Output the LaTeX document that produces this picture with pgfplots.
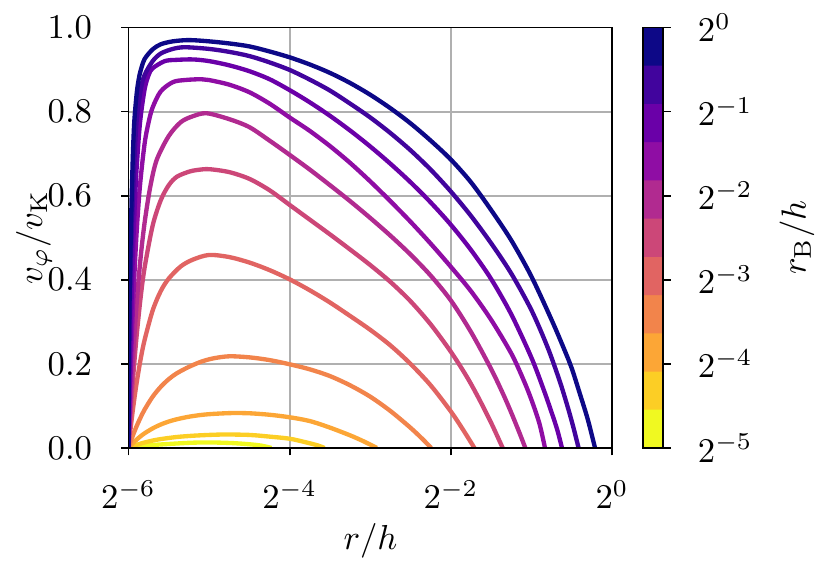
\documentclass[border=0pt]{standalone}
\usepackage{pgfplots}
\pgfplotsset{compat=1.18}
\definecolor{c0}{HTML}{0D0887}
\definecolor{c1}{HTML}{41049D}
\definecolor{c2}{HTML}{6A00A8}
\definecolor{c3}{HTML}{8F0DA4}
\definecolor{c4}{HTML}{B12A90}
\definecolor{c5}{HTML}{CC4778}
\definecolor{c6}{HTML}{E16462}
\definecolor{c7}{HTML}{F2844B}
\definecolor{c8}{HTML}{FCA636}
\definecolor{c9}{HTML}{FCCE25}
\definecolor{c10}{HTML}{F0F921}
\definecolor{gridgray}{HTML}{B0B0B0}
\begin{document}
\begin{tikzpicture}
\useasboundingbox (-37.07pt,-33.17pt) rectangle (202.36pt,129.23pt);
\begin{axis}[
  name=main, at={(0pt,0pt)}, anchor=south west,
  scale only axis, width=139.47pt, height=121.30pt,
  xmin=-6, xmax=0, ymin=0, ymax=1,
  xtick={-6,-4,-2,0}, xticklabels={$2^{-6}$,$2^{-4}$,$2^{-2}$,$2^{0}$},
  ytick={0,0.2,0.4,0.6,0.8,1}, yticklabels={$0.0$,$0.2$,$0.4$,$0.6$,$0.8$,$1.0$},
  tick align=outside, tick pos=left,
  major tick length=2.12pt,
  every tick/.style={black, line width=0.5pt},
  axis line style={line width=0.5pt},
  grid=major, major grid style={color=gridgray, line width=0.55pt},
  xticklabel style={anchor=base, inner sep=0pt, yshift=-15.38pt},
  yticklabel style={anchor=east, inner sep=0pt, xshift=-8.22pt},
  every axis plot/.append style={line width=1.25pt, line join=round, no markers, smooth, tension=0.5},
]
\addplot[c10] coordinates {(-6,0) (-5.9,0.0029) (-5.7,0.007) (-5.5,0.0095) (-5.25,0.0122) (-5.09,0.013) (-4.9,0.0128) (-4.7,0.0115) (-4.5,0.0088) (-4.35,0.0055) (-4.225,0)};
\addplot[c9] coordinates {(-6,0) (-5.97,0.0024) (-5.9,0.0073) (-5.8,0.0131) (-5.7,0.0176) (-5.6,0.0211) (-5.4,0.0261) (-5.2,0.0291) (-5.0,0.031) (-4.8,0.032) (-4.5,0.031) (-4.25,0.027) (-4.0,0.022) (-3.8,0.0135) (-3.65,0.006) (-3.567,0)};
\addplot[c8] coordinates {(-6,0) (-5.99,0.0022) (-5.97,0.0064) (-5.94,0.0124) (-5.9,0.0197) (-5.85,0.0278) (-5.8,0.0349) (-5.7,0.0466) (-5.6,0.0558) (-5.5,0.0629) (-5.4,0.0683) (-5.25,0.0743) (-5.1,0.0785) (-4.95,0.081) (-4.72,0.083) (-4.5,0.0825) (-4.25,0.079) (-4.0,0.073) (-3.75,0.064) (-3.5,0.0484) (-3.25,0.030) (-3.1,0.0174) (-3.0,0.0081) (-2.918,0)};
\addplot[c7] coordinates {(-6,0) (-5.99,0.0058) (-5.97,0.0169) (-5.94,0.0325) (-5.9,0.0515) (-5.85,0.0725) (-5.8,0.0913) (-5.7,0.122) (-5.6,0.1454) (-5.5,0.1637) (-5.4,0.1777) (-5.25,0.1929) (-5.1,0.205) (-4.95,0.213) (-4.75,0.218) (-4.5,0.2155) (-4.25,0.209) (-4.0,0.199) (-3.75,0.187) (-3.5,0.171) (-3.25,0.149) (-3.0,0.122) (-2.75,0.088) (-2.5,0.048) (-2.35,0.021) (-2.244,0)};
\addplot[c6] coordinates {(-6,0) (-5.99,0.0182) (-5.97,0.0526) (-5.94,0.0993) (-5.9,0.1535) (-5.85,0.2106) (-5.8,0.257) (-5.7,0.327) (-5.6,0.373) (-5.5,0.403) (-5.35,0.432) (-5.2,0.448) (-5.0,0.459) (-4.75,0.454) (-4.5,0.441) (-4.25,0.423) (-4.0,0.401) (-3.75,0.375) (-3.5,0.346) (-3.25,0.314) (-3.0,0.281) (-2.75,0.244) (-2.5,0.200) (-2.25,0.149) (-2.0,0.087) (-1.85,0.044) (-1.707,0)};
\addplot[c5] coordinates {(-6,0) (-5.99,0.0327) (-5.97,0.0935) (-5.94,0.174) (-5.9,0.265) (-5.85,0.357) (-5.8,0.429) (-5.7,0.529) (-5.6,0.589) (-5.5,0.625) (-5.4,0.645) (-5.25,0.657) (-5.15,0.661) (-5.0,0.663) (-4.75,0.656) (-4.5,0.640) (-4.25,0.613) (-4.0,0.578) (-3.75,0.543) (-3.5,0.508) (-3.25,0.472) (-3.0,0.435) (-2.75,0.395) (-2.5,0.349) (-2.25,0.294) (-2.0,0.229) (-1.8,0.169) (-1.65,0.117) (-1.5,0.060) (-1.42,0.027) (-1.356,0)};
\addplot[c4] coordinates {(-6,0) (-5.99,0.043) (-5.97,0.123) (-5.94,0.226) (-5.9,0.341) (-5.85,0.452) (-5.8,0.536) (-5.73,0.621) (-5.65,0.685) (-5.5,0.742) (-5.35,0.775) (-5.2,0.789) (-5.03,0.796) (-4.75,0.782) (-4.5,0.763) (-4.25,0.731) (-4.0,0.697) (-3.75,0.662) (-3.5,0.625) (-3.25,0.587) (-3.0,0.547) (-2.75,0.505) (-2.5,0.460) (-2.25,0.410) (-2.0,0.351) (-1.75,0.276) (-1.5,0.188) (-1.35,0.128) (-1.25,0.084) (-1.15,0.037) (-1.075,0)};
\addplot[c3] coordinates {(-6,0) (-5.99,0.073) (-5.97,0.201) (-5.94,0.357) (-5.9,0.510) (-5.857,0.625) (-5.8,0.724) (-5.75,0.775) (-5.7,0.81) (-5.6,0.848) (-5.45,0.87) (-5.3,0.875) (-5.1,0.877) (-5.0,0.875) (-4.75,0.864) (-4.5,0.846) (-4.25,0.819) (-4.0,0.786) (-3.75,0.754) (-3.5,0.718) (-3.25,0.678) (-3.0,0.634) (-2.75,0.587) (-2.5,0.538) (-2.25,0.486) (-2.0,0.431) (-1.75,0.373) (-1.5,0.305) (-1.25,0.225) (-1.1,0.163) (-1.0,0.115) (-0.9,0.058) (-0.831,0)};
\addplot[c2] coordinates {(-6,0) (-5.995,0.056) (-5.99,0.109) (-5.98,0.206) (-5.96,0.366) (-5.94,0.490) (-5.92,0.587) (-5.9,0.663) (-5.857,0.774) (-5.8,0.853) (-5.75,0.887) (-5.7,0.903) (-5.55,0.92) (-5.4,0.923) (-5.2,0.924) (-5.0,0.920) (-4.75,0.910) (-4.5,0.896) (-4.25,0.877) (-4.0,0.851) (-3.75,0.822) (-3.5,0.790) (-3.25,0.755) (-3.0,0.717) (-2.75,0.676) (-2.5,0.632) (-2.25,0.584) (-2.0,0.531) (-1.75,0.471) (-1.5,0.402) (-1.25,0.318) (-1.0,0.215) (-0.85,0.14) (-0.75,0.085) (-0.68,0.044) (-0.62,0)};
\addplot[c1] coordinates {(-6,0) (-5.99,0.25) (-5.975,0.40) (-5.955,0.54) (-5.93,0.67) (-5.9,0.775) (-5.85,0.85) (-5.8,0.887) (-5.7,0.92) (-5.6,0.938) (-5.45,0.949) (-5.3,0.953) (-5.0,0.949) (-4.75,0.942) (-4.5,0.932) (-4.25,0.917) (-4.0,0.899) (-3.75,0.876) (-3.5,0.850) (-3.25,0.819) (-3.0,0.786) (-2.75,0.749) (-2.5,0.708) (-2.25,0.662) (-2.0,0.610) (-1.75,0.552) (-1.5,0.487) (-1.25,0.415) (-1.0,0.328) (-0.8,0.24) (-0.65,0.16) (-0.55,0.098) (-0.48,0.05) (-0.414,0)};
\addplot[c0] coordinates {(-6,0) (-5.995,0.21) (-5.985,0.37) (-5.97,0.52) (-5.95,0.67) (-5.93,0.77) (-5.9,0.84) (-5.875,0.875) (-5.85,0.897) (-5.8,0.925) (-5.7,0.948) (-5.6,0.96) (-5.45,0.967) (-5.25,0.970) (-5.0,0.967) (-4.75,0.962) (-4.5,0.955) (-4.25,0.943) (-4.0,0.929) (-3.75,0.912) (-3.5,0.892) (-3.25,0.868) (-3.0,0.840) (-2.75,0.808) (-2.5,0.772) (-2.25,0.731) (-2.0,0.686) (-1.75,0.632) (-1.5,0.566) (-1.25,0.494) (-1.0,0.408) (-0.75,0.305) (-0.6,0.238) (-0.5,0.19) (-0.4,0.13) (-0.3,0.068) (-0.21,0)};
\end{axis}
\draw[line width=0.5pt] (main.south west) rectangle (main.north east);
\begin{axis}[
  name=cb, at={(148.33pt,0pt)}, anchor=south west,
  scale only axis, width=5.94pt, height=121.30pt,
  xmin=0, xmax=1, ymin=-5, ymax=0,
  xtick=\empty,
  ytick={-5,-4,-3,-2,-1,0}, yticklabels={$2^{-5}$,$2^{-4}$,$2^{-3}$,$2^{-2}$,$2^{-1}$,$2^{0}$},
  ytick pos=right, yticklabel pos=right,
  tick align=outside, major tick length=2.12pt,
  every tick/.style={black, line width=0.5pt},
  axis line style={line width=0.5pt},
  yticklabel style={anchor=west, inner sep=0pt, xshift=7.69pt},
  axis on top,
]
\addplot[draw=none, fill=c10] coordinates {(0,-5) (1,-5) (1,-4.535) (0,-4.535) (0,-5)};
\addplot[draw=none, fill=c9] coordinates {(0,-4.5455) (1,-4.5455) (1,-4.081) (0,-4.081) (0,-4.5455)};
\addplot[draw=none, fill=c8] coordinates {(0,-4.0909) (1,-4.0909) (1,-3.626) (0,-3.626) (0,-4.0909)};
\addplot[draw=none, fill=c7] coordinates {(0,-3.6364) (1,-3.6364) (1,-3.172) (0,-3.172) (0,-3.6364)};
\addplot[draw=none, fill=c6] coordinates {(0,-3.1818) (1,-3.1818) (1,-2.717) (0,-2.717) (0,-3.1818)};
\addplot[draw=none, fill=c5] coordinates {(0,-2.7273) (1,-2.7273) (1,-2.263) (0,-2.263) (0,-2.7273)};
\addplot[draw=none, fill=c4] coordinates {(0,-2.2727) (1,-2.2727) (1,-1.808) (0,-1.808) (0,-2.2727)};
\addplot[draw=none, fill=c3] coordinates {(0,-1.8182) (1,-1.8182) (1,-1.354) (0,-1.354) (0,-1.8182)};
\addplot[draw=none, fill=c2] coordinates {(0,-1.3636) (1,-1.3636) (1,-0.899) (0,-0.899) (0,-1.3636)};
\addplot[draw=none, fill=c1] coordinates {(0,-0.9091) (1,-0.9091) (1,-0.445) (0,-0.445) (0,-0.9091)};
\addplot[draw=none, fill=c0] coordinates {(0,-0.4545) (1,-0.4545) (1,0) (0,0) (0,-0.4545)};
\end{axis}
\node[inner sep=0pt, rotate=90] at (-27.26pt,60.65pt) {$v_{\varphi}/v_{\mathrm{K}}$};
\node[inner sep=0pt] at (69.81pt,-26.65pt) {$r/h$};
\node[inner sep=0pt, rotate=90] at (192.84pt,60.65pt) {$r_{\mathrm{B}}/h$};
\end{tikzpicture}
\end{document}
